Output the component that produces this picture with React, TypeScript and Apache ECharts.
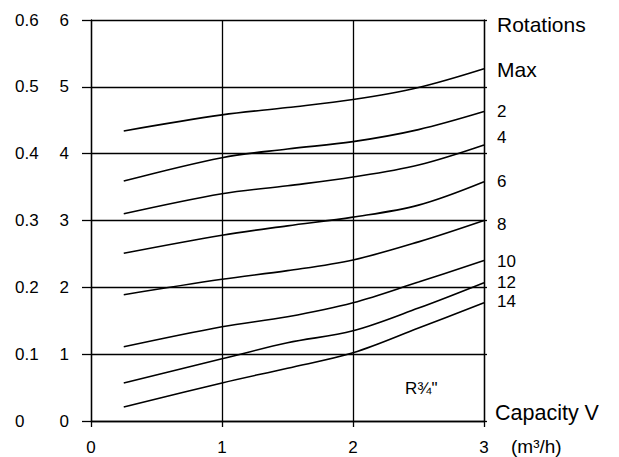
import React, { useEffect, useRef } from "react";
import * as echarts from "echarts";

const capacity = [0.25, 1, 1.5, 2, 2.5, 3];
const curveNames = ["Max", "2", "4", "6", "8", "10", "12", "14"];
const curveMax = [4.34, 4.58, 4.69, 4.81, 4.99, 5.27];
const curve2 = [3.59, 3.94, 4.07, 4.18, 4.36, 4.63];
const curve4 = [3.1, 3.4, 3.52, 3.65, 3.83, 4.13];
const curve6 = [2.51, 2.78, 2.92, 3.05, 3.23, 3.58];
const curve8 = [1.89, 2.12, 2.25, 2.41, 2.68, 3.0];
const curve10 = [1.11, 1.41, 1.56, 1.77, 2.08, 2.4];
const curve12 = [0.57, 0.93, 1.17, 1.35, 1.69, 2.07];
const curve14 = [0.21, 0.57, 0.79, 1.02, 1.39, 1.77];
const curves = [curveMax, curve2, curve4, curve6, curve8, curve10, curve12, curve14];
const labelShift = [1, 0, -7, 0, 4, 1, 0, -1];
const xTicks = [0, 1, 2, 3];
const leftTicks = [0, 1, 2, 3, 4, 5, 6];
const leftTicks2 = ["0", "0.1", "0.2", "0.3", "0.4", "0.5", "0.6"];

const FONT = "Liberation Sans, Arial, Helvetica, sans-serif";

export default function App() {
  const ref = useRef<HTMLDivElement>(null);
  useEffect(() => {
    if (!ref.current) return;
    const chart = echarts.init(ref.current, null, { renderer: "svg" });
    const line = { color: "#000", width: 1.3 };
    chart.setOption({
      animation: false,
      backgroundColor: "#fff",
      textStyle: { fontFamily: FONT, color: "#000" },
      grid: { left: 91, right: 135, top: 20, bottom: 36 },
      xAxis: {
        type: "value",
        min: 0,
        max: 3,
        interval: 1,
        axisLine: { show: true, lineStyle: line },
        axisTick: { show: true, length: 6, lineStyle: line },
        splitLine: { show: true, lineStyle: line },
        axisLabel: {
          margin: 18,
          fontSize: 17,
          color: "#000",
          fontFamily: FONT,
          formatter: (v: number) => (xTicks.includes(v) ? String(v) : ""),
        },
      },
      yAxis: [
        {
          type: "value",
          min: 0,
          max: 6,
          interval: 1,
          position: "left",
          axisLine: { show: true, onZero: false, lineStyle: line },
          axisTick: { show: true, length: 9, lineStyle: line },
          splitLine: { show: true, lineStyle: line },
          axisLabel: {
            margin: 22,
            fontSize: 17,
            color: "#000",
            fontFamily: FONT,
            formatter: (v: number) => String(leftTicks[Math.round(v)]),
          },
        },
        {
          type: "value",
          min: 0,
          max: 6,
          interval: 1,
          position: "left",
          axisLine: { show: false },
          axisTick: { show: false },
          splitLine: { show: false },
          axisLabel: {
            margin: 76,
            align: "left",
            fontSize: 17,
            color: "#000",
            fontFamily: FONT,
            formatter: (v: number) => leftTicks2[Math.round(v)],
          },
        },
        {
          type: "value",
          min: 0,
          max: 6,
          interval: 1,
          position: "right",
          axisLine: { show: true, onZero: false, lineStyle: line },
          axisTick: { show: true, length: 3, lineStyle: line },
          splitLine: { show: false },
          axisLabel: { show: false },
        },
      ],
      series: curves.map((vals, i) => ({
        type: "line",
        name: curveNames[i],
        smooth: 0.35,
        symbol: "none",
        yAxisIndex: 0,
        lineStyle: { color: "#000", width: 1.6 },
        data: vals.map((v, j) => [capacity[j], v]),
        endLabel: {
          show: true,
          formatter: curveNames[i],
          distance: 13,
          offset: [0, labelShift[i]],
          fontSize: i === 0 ? 21 : 17,
          color: "#000",
          fontFamily: FONT,
        },
      })),
      graphic: [
        {
          type: "text",
          left: 497,
          top: 14,
          style: { text: "Rotations", fontSize: 21, fill: "#000", fontFamily: FONT },
        },
        {
          type: "text",
          left: 495,
          top: 402,
          style: { text: "Capacity V", fontSize: 21.5, fill: "#000", fontFamily: FONT },
        },
        {
          type: "text",
          left: 511,
          top: 437,
          style: { text: "(m³/h)", fontSize: 19, fill: "#000", fontFamily: FONT },
        },
        {
          type: "text",
          left: 405,
          top: 380,
          style: { text: "R¾\"", fontSize: 17, fill: "#000", fontFamily: FONT },
        },
      ],
    });
    return () => chart.dispose();
  }, []);
  return (
    <div
      ref={ref}
      style={{ position: "fixed", left: 0, top: 0, width: 619, height: 457 }}
    />
  );
}
